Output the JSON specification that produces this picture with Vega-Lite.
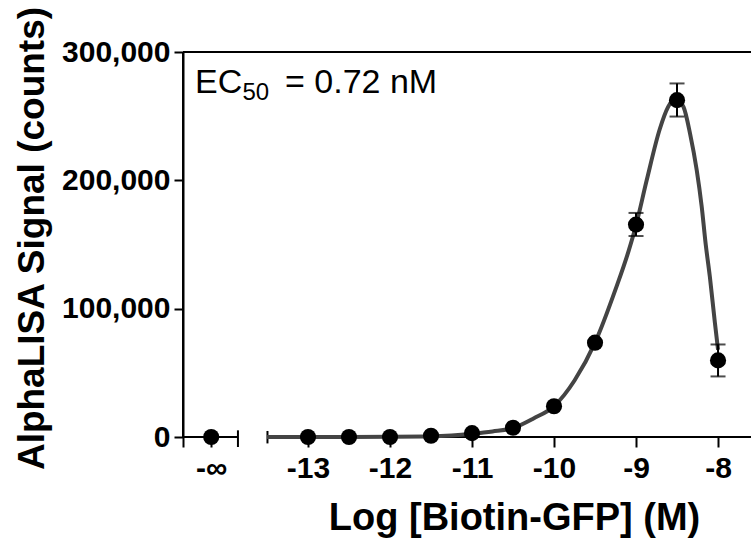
{
  "$schema": "https://vega.github.io/schema/vega-lite/v6.json",
  "autosize": {"type": "none"},
  "padding": {"left": 183, "top": 52, "right": 0, "bottom": 103},
  "width": 568,
  "height": 385,
  "background": "white",
  "config": {"view": {"stroke": null}, "font": "Liberation Sans"},
  "data": {"values": [{}]},
  "datasets": {
    "points": [
      {"x": -14.18, "y": 0},
      {"x": -13, "y": 0},
      {"x": -12.5, "y": 0},
      {"x": -12, "y": 0},
      {"x": -11.5, "y": 1000},
      {"x": -11, "y": 3000},
      {"x": -10.5, "y": 7200},
      {"x": -10, "y": 24000},
      {"x": -9.5, "y": 73500},
      {"x": -9, "y": 165500, "lo": 156600, "hi": 174600},
      {"x": -8.5, "y": 262500, "lo": 249700, "hi": 275500},
      {"x": -8, "y": 59700, "lo": 47200, "hi": 72100}
    ],
    "curve": [
      {"x": -13.5, "y": 0},
      {"x": -13, "y": 0},
      {"x": -12.5, "y": 50},
      {"x": -12, "y": 150},
      {"x": -11.5, "y": 500},
      {"x": -11.25, "y": 1200},
      {"x": -11, "y": 2500},
      {"x": -10.75, "y": 4300},
      {"x": -10.5, "y": 7000},
      {"x": -10.25, "y": 14500},
      {"x": -10, "y": 24000},
      {"x": -9.75, "y": 44000},
      {"x": -9.5, "y": 73500},
      {"x": -9.25, "y": 115000},
      {"x": -9.09, "y": 145000},
      {"x": -9.0, "y": 165000},
      {"x": -8.87, "y": 200000},
      {"x": -8.71, "y": 240000},
      {"x": -8.61, "y": 257000},
      {"x": -8.52, "y": 264000},
      {"x": -8.42, "y": 257000},
      {"x": -8.34, "y": 236000},
      {"x": -8.26, "y": 208000},
      {"x": -8.2, "y": 180000},
      {"x": -8.15, "y": 150000},
      {"x": -8.1, "y": 125000},
      {"x": -8.04, "y": 90000},
      {"x": -8.0, "y": 68000}
    ]
  },
  "layer": [
    {
      "mark": {"type": "rule", "color": "black", "strokeWidth": 2},
      "encoding": {
        "y": {
          "datum": 300000,
          "type": "quantitative",
          "scale": {"domain": [0, 300000], "nice": false, "zero": false},
          "axis": {
            "values": [0, 100000, 200000, 300000],
            "format": ",d",
            "title": "AlphaLISA Signal (counts)",
            "titleFontSize": 37,
            "titleFontWeight": "bold",
            "titleColor": "black",
            "titleAngle": 270,
            "titleAlign": "center",
            "titleBaseline": "alphabetic",
            "titleX": -140,
            "titleY": 186,
            "labelFontSize": 30,
            "labelFontWeight": "bold",
            "labelColor": "black",
            "labelPadding": 4,
            "tickSize": 9,
            "tickWidth": 2,
            "tickColor": "black",
            "domain": true,
            "domainWidth": 2,
            "domainColor": "black",
            "grid": false
          }
        },
        "x": {
          "datum": -14.524,
          "type": "quantitative",
          "scale": {"domain": [-14.524, -7.598], "nice": false, "zero": false},
          "axis": {
            "values": [-14.524, -14.18, -13, -12, -11, -10, -9, -8],
            "labelExpr": "datum.value < -14.3 ? '' : datum.value < -14 ? '-∞' : '-' + abs(datum.value)",
            "domain": false,
            "title": "Log [Biotin-GFP] (M)",
            "titleFontSize": 38,
            "titleFontWeight": "bold",
            "titleColor": "black",
            "titleAlign": "center",
            "titleBaseline": "alphabetic",
            "titleX": 331,
            "titleY": 92,
            "labelFontSize": 30,
            "labelFontWeight": "bold",
            "labelColor": "black",
            "labelPadding": 6,
            "labelFlush": false,
            "labelOverlap": false,
            "tickSize": 10,
            "tickWidth": 2,
            "tickColor": "black",
            "grid": false
          }
        },
        "x2": {"datum": -7.598}
      }
    },
    {
      "mark": {"type": "rule", "color": "black", "strokeWidth": 2},
      "encoding": {
        "x": {"datum": -14.524, "type": "quantitative"},
        "y": {"datum": 0, "type": "quantitative"},
        "y2": {"datum": 300000}
      }
    },
    {
      "mark": {"type": "rule", "color": "black", "strokeWidth": 2},
      "encoding": {
        "x": {"datum": -14.524, "type": "quantitative"},
        "x2": {"datum": -13.854},
        "y": {"datum": 0, "type": "quantitative"}
      }
    },
    {
      "mark": {"type": "rule", "color": "black", "strokeWidth": 2},
      "encoding": {
        "x": {"datum": -13.494, "type": "quantitative"},
        "x2": {"datum": -7.598},
        "y": {"datum": 0, "type": "quantitative"}
      }
    },
    {
      "mark": {"type": "rule", "color": "black", "strokeWidth": 2},
      "encoding": {
        "x": {"datum": -13.854, "type": "quantitative"},
        "y": {"datum": 5200, "type": "quantitative"},
        "y2": {"datum": -7800}
      }
    },
    {
      "mark": {"type": "rule", "color": "black", "strokeWidth": 2},
      "encoding": {
        "x": {"datum": -13.494, "type": "quantitative"},
        "y": {"datum": 4700, "type": "quantitative"},
        "y2": {"datum": -5000}
      }
    },
    {
      "data": {"name": "curve"},
      "mark": {"type": "line", "color": "#444444", "strokeWidth": 4, "interpolate": "monotone"},
      "encoding": {
        "x": {"field": "x", "type": "quantitative", "title": "Log [Biotin-GFP] (M)"},
        "y": {"field": "y", "type": "quantitative", "title": "AlphaLISA Signal (counts)"}
      }
    },
    {
      "data": {"name": "points"},
      "transform": [{"filter": "isValid(datum.hi)"}],
      "mark": {"type": "errorbar", "ticks": true, "size": 15, "thickness": 2, "color": "black"},
      "encoding": {
        "x": {"field": "x", "type": "quantitative", "title": "Log [Biotin-GFP] (M)"},
        "y": {"field": "lo", "type": "quantitative", "title": "AlphaLISA Signal (counts)"},
        "y2": {"field": "hi"}
      }
    },
    {
      "data": {"name": "points"},
      "mark": {"type": "point", "shape": "circle", "filled": true, "color": "black", "opacity": 1, "size": 260},
      "encoding": {
        "x": {"field": "x", "type": "quantitative", "title": "Log [Biotin-GFP] (M)"},
        "y": {"field": "y", "type": "quantitative", "title": "AlphaLISA Signal (counts)"}
      }
    },
    {
      "data": {"values": [{"x": -14.378, "y": 267800, "label": "EC"}, {"x": -13.28, "y": 267800, "label": "= 0.72 nM"}]},
      "mark": {"type": "text", "align": "left", "baseline": "alphabetic", "fontSize": 34, "color": "black", "font": "Liberation Sans"},
      "encoding": {
        "x": {"field": "x", "type": "quantitative", "title": "Log [Biotin-GFP] (M)"},
        "y": {"field": "y", "type": "quantitative", "title": "AlphaLISA Signal (counts)"},
        "text": {"field": "label"}
      }
    },
    {
      "data": {"values": [{"x": -13.8, "y": 262500, "label": "50"}]},
      "mark": {"type": "text", "align": "left", "baseline": "alphabetic", "fontSize": 24, "color": "black", "font": "Liberation Sans"},
      "encoding": {
        "x": {"field": "x", "type": "quantitative", "title": "Log [Biotin-GFP] (M)"},
        "y": {"field": "y", "type": "quantitative", "title": "AlphaLISA Signal (counts)"},
        "text": {"field": "label"}
      }
    }
  ]
}
